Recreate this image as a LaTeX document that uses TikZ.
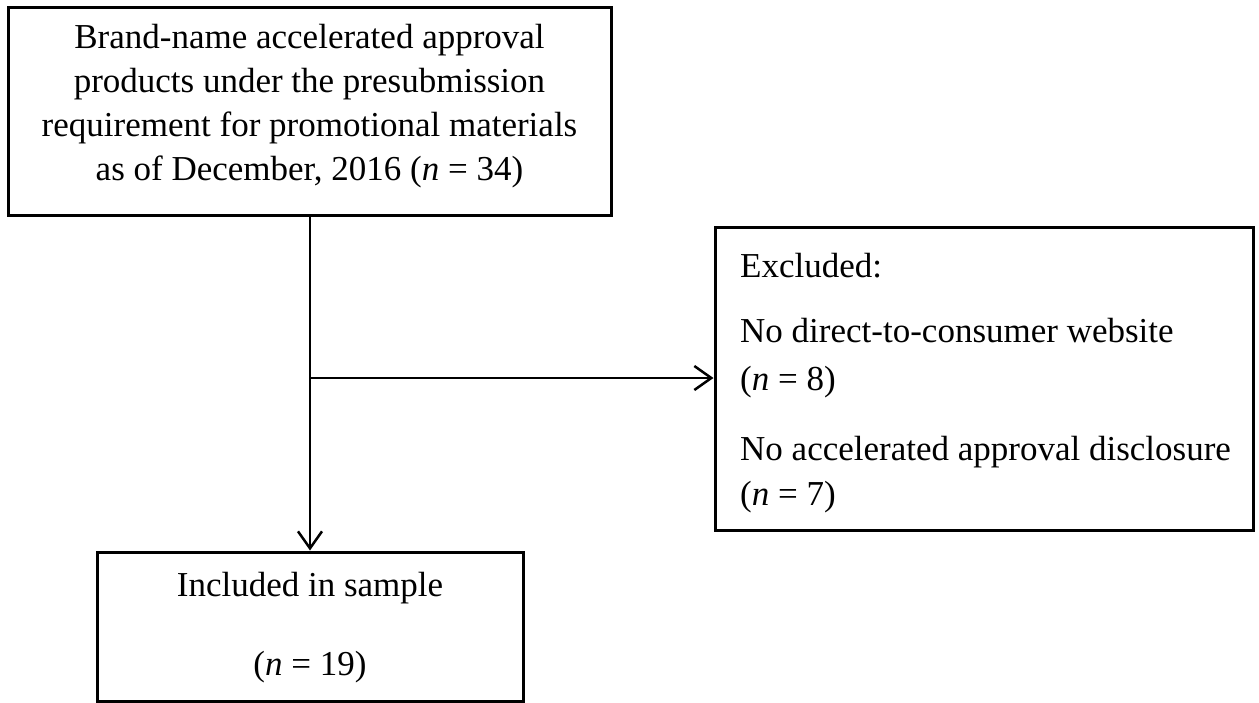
\documentclass[tikz,border=0pt]{standalone}
\usepackage{fontspec}
\setmainfont{Liberation Serif}
\usetikzlibrary{arrows.meta}
\begin{document}
\begin{tikzpicture}[x=1pt,y=-1pt,
  box/.style={draw=black, line width=3pt, inner sep=0pt},
  txt/.style={font=\fontsize{35}{44}\selectfont, inner sep=0pt},
  conn/.style={draw=black, line width=2.5pt, -{Straight Barb[length=17pt,width=24pt,line width=2.5pt]}}]
\useasboundingbox (0,0) rectangle (1259,702);
% top box
\node[box, minimum width=603pt, minimum height=208pt] (top) at (309.5,111) {};
\node[txt, align=center] (toptext) at (309.5,106) {Brand-name accelerated approval\\products under the presubmission\\requirement for promotional materials\\as of December, 2016 (\textit{n} = 34)};
% excluded box
\node[box, minimum width=538pt, minimum height=303pt] (excl) at (984,378.5) {};
\node[txt, anchor=base west] (ex1) at (740,277) {Excluded:};
\node[txt, anchor=base west] (ex2) at (740,342) {No direct-to-consumer website};
\node[txt, anchor=base west] (ex3) at (740,390) {(\textit{n} = 8)};
\node[txt, anchor=base west] (ex4) at (740,460) {No accelerated approval disclosure};
\node[txt, anchor=base west] (ex5) at (740,505) {(\textit{n} = 7)};
% bottom box
\node[box, minimum width=426pt, minimum height=149pt] (incl) at (310,626.5) {};
\node[txt, anchor=base] (in1) at (310,596) {Included in sample};
\node[txt, anchor=base] (in2) at (310,675) {(\textit{n} = 19)};
% connectors
\coordinate (branch) at (310,378);
\draw[conn] (top.south -| incl.north) -- (incl.north);
\draw[conn] (branch) -- (branch -| excl.west);
\end{tikzpicture}
\end{document}
